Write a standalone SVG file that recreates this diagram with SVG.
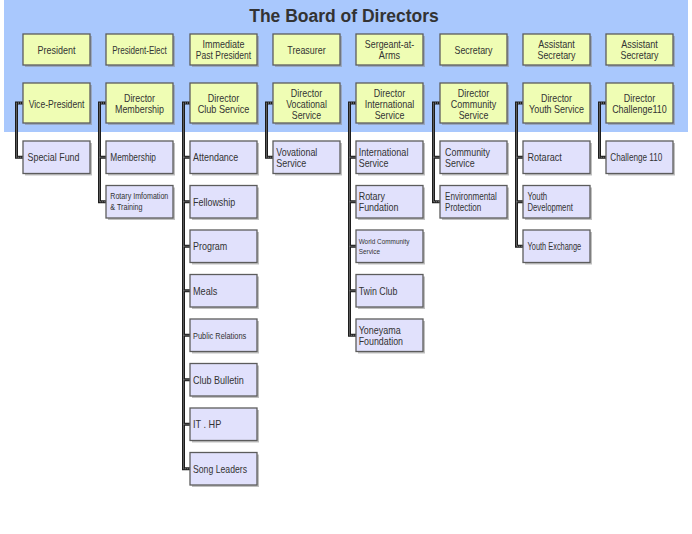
<svg xmlns="http://www.w3.org/2000/svg" width="692" height="534" viewBox="0 0 692 534">
<style>
.bg{fill:#A9C8FD}
.sh{fill:#8c8c8c;opacity:.55}
.y{fill:#EFFDB4;stroke:#5c5c5c;stroke-width:1.3}
.v{fill:#E1E1FC;stroke:#5c5c5c;stroke-width:1.3}
text{font-family:"Liberation Sans",Arial,sans-serif;font-size:11px;fill:#333}
.c{text-anchor:middle}
.s9{font-size:9px}
.s93{font-size:9.3px}
.s8{font-size:8px}
.title{font-size:17.5px;font-weight:bold;fill:#333;text-anchor:middle}
.ln{fill:none;stroke:#1c1c1c;stroke-width:3}
.ld{fill:none;stroke:#9a9a9a;stroke-width:1;stroke-dasharray:1 1}
</style>
<rect class="bg" x="4" y="0" width="684" height="132"/>
<text class="title" x="344" y="22">The Board of Directors</text>

<g id="connectors">
<path class="ln" d="M23,103H16.5V157.25H23 M106,103H99.5V201.75H106 M99.5,157.25H106 M190,103H183.5V468.75H190 M183.5,157.25H190 M183.5,201.75H190 M183.5,246.25H190 M183.5,290.75H190 M183.5,335.25H190 M183.5,379.75H190 M183.5,424.25H190 M273,103H266.5V157.25H273 M356,103H349.5V335.25H356 M349.5,157.25H356 M349.5,201.75H356 M349.5,246.25H356 M349.5,290.75H356 M440,103H433.5V201.75H440 M433.5,157.25H440 M523,103H516.5V246.25H523 M516.5,157.25H523 M516.5,201.75H523 M606,103H599.5V157.25H606"/>
<path class="ld" d="M23,103H16.5V157.25H23 M106,103H99.5V201.75H106 M99.5,157.25H106 M190,103H183.5V468.75H190 M183.5,157.25H190 M183.5,201.75H190 M183.5,246.25H190 M183.5,290.75H190 M183.5,335.25H190 M183.5,379.75H190 M183.5,424.25H190 M273,103H266.5V157.25H273 M356,103H349.5V335.25H356 M349.5,157.25H356 M349.5,201.75H356 M349.5,246.25H356 M349.5,290.75H356 M440,103H433.5V201.75H440 M433.5,157.25H440 M523,103H516.5V246.25H523 M516.5,157.25H523 M516.5,201.75H523 M606,103H599.5V157.25H606"/>
</g>

<!-- Row 1 -->
<g id="president"><rect class="sh" x="25" y="36" width="67" height="31"/><rect class="y" x="23" y="34" width="67" height="31"/><text class="c" x="56.5" y="53.5" textLength="38" lengthAdjust="spacingAndGlyphs">President</text></g>
<g id="president-elect"><rect class="sh" x="108" y="36" width="67" height="31"/><rect class="y" x="106" y="34" width="67" height="31"/><text class="c" x="139.5" y="53.5" textLength="54.7" lengthAdjust="spacingAndGlyphs">President-Elect</text></g>
<g id="past-president"><rect class="sh" x="192" y="36" width="67" height="31"/><rect class="y" x="190" y="34" width="67" height="31"/><text class="c" x="223.5" y="47.7" textLength="42" lengthAdjust="spacingAndGlyphs">Immediate</text><text class="c" x="223.5" y="58.7" textLength="55.3" lengthAdjust="spacingAndGlyphs">Past President</text></g>
<g id="treasurer"><rect class="sh" x="275" y="36" width="67" height="31"/><rect class="y" x="273" y="34" width="67" height="31"/><text class="c" x="306.5" y="53.5" textLength="38.3" lengthAdjust="spacingAndGlyphs">Treasurer</text></g>
<g id="sergeant"><rect class="sh" x="358" y="36" width="67" height="31"/><rect class="y" x="356" y="34" width="67" height="31"/><text class="c" x="389.5" y="47.7" textLength="49.3" lengthAdjust="spacingAndGlyphs">Sergeant-at-</text><text class="c" x="389.5" y="58.7" textLength="21.3" lengthAdjust="spacingAndGlyphs">Arms</text></g>
<g id="secretary"><rect class="sh" x="442" y="36" width="67" height="31"/><rect class="y" x="440" y="34" width="67" height="31"/><text class="c" x="473.5" y="53.5" textLength="38" lengthAdjust="spacingAndGlyphs">Secretary</text></g>
<g id="asst-secretary-1"><rect class="sh" x="525" y="36" width="67" height="31"/><rect class="y" x="523" y="34" width="67" height="31"/><text class="c" x="556.5" y="47.7" textLength="36.7" lengthAdjust="spacingAndGlyphs">Assistant</text><text class="c" x="556.5" y="58.7" textLength="38" lengthAdjust="spacingAndGlyphs">Secretary</text></g>
<g id="asst-secretary-2"><rect class="sh" x="608" y="36" width="67" height="31"/><rect class="y" x="606" y="34" width="67" height="31"/><text class="c" x="639.5" y="47.7" textLength="36.7" lengthAdjust="spacingAndGlyphs">Assistant</text><text class="c" x="639.5" y="58.7" textLength="38" lengthAdjust="spacingAndGlyphs">Secretary</text></g>

<!-- Row 2 -->
<g id="vice-president"><rect class="sh" x="25" y="85" width="67" height="40"/><rect class="y" x="23" y="83" width="67" height="40"/><text class="c" x="56.5" y="108" textLength="55.7" lengthAdjust="spacingAndGlyphs">Vice-President</text></g>
<g id="dir-membership"><rect class="sh" x="108" y="85" width="67" height="40"/><rect class="y" x="106" y="83" width="67" height="40"/><text class="c" x="139.5" y="102.3" textLength="31" lengthAdjust="spacingAndGlyphs">Director</text><text class="c" x="139.5" y="113.3" textLength="49" lengthAdjust="spacingAndGlyphs">Membership</text></g>
<g id="dir-club"><rect class="sh" x="192" y="85" width="67" height="40"/><rect class="y" x="190" y="83" width="67" height="40"/><text class="c" x="223.5" y="102.3" textLength="31.3" lengthAdjust="spacingAndGlyphs">Director</text><text class="c" x="223.5" y="113.3" textLength="51.7" lengthAdjust="spacingAndGlyphs">Club Service</text></g>
<g id="dir-vocational"><rect class="sh" x="275" y="85" width="67" height="40"/><rect class="y" x="273" y="83" width="67" height="40"/><text class="c" x="306.5" y="96.7" textLength="31.3" lengthAdjust="spacingAndGlyphs">Director</text><text class="c" x="306.5" y="108" textLength="40.7" lengthAdjust="spacingAndGlyphs">Vocational</text><text class="c" x="306.5" y="119.3" textLength="29.3" lengthAdjust="spacingAndGlyphs">Service</text></g>
<g id="dir-international"><rect class="sh" x="358" y="85" width="67" height="40"/><rect class="y" x="356" y="83" width="67" height="40"/><text class="c" x="389.5" y="96.7" textLength="31.3" lengthAdjust="spacingAndGlyphs">Director</text><text class="c" x="389.5" y="108" textLength="49.7" lengthAdjust="spacingAndGlyphs">International</text><text class="c" x="389.5" y="119.3" textLength="29.7" lengthAdjust="spacingAndGlyphs">Service</text></g>
<g id="dir-community"><rect class="sh" x="442" y="85" width="67" height="40"/><rect class="y" x="440" y="83" width="67" height="40"/><text class="c" x="473.5" y="96.7" textLength="31.3" lengthAdjust="spacingAndGlyphs">Director</text><text class="c" x="473.5" y="108" textLength="45.3" lengthAdjust="spacingAndGlyphs">Community</text><text class="c" x="473.5" y="119.3" textLength="29.7" lengthAdjust="spacingAndGlyphs">Service</text></g>
<g id="dir-youth"><rect class="sh" x="525" y="85" width="67" height="40"/><rect class="y" x="523" y="83" width="67" height="40"/><text class="c" x="556.5" y="102.3" textLength="31" lengthAdjust="spacingAndGlyphs">Director</text><text class="c" x="556.5" y="113.3" textLength="55" lengthAdjust="spacingAndGlyphs">Youth Service</text></g>
<g id="dir-challenge"><rect class="sh" x="608" y="85" width="67" height="40"/><rect class="y" x="606" y="83" width="67" height="40"/><text class="c" x="639.5" y="102.3" textLength="31.3" lengthAdjust="spacingAndGlyphs">Director</text><text class="c" x="639.5" y="113.3" textLength="54.7" lengthAdjust="spacingAndGlyphs">Challenge110</text></g>

<!-- Children col 1 -->
<g id="special-fund"><rect class="sh" x="25" y="143" width="67" height="32.5"/><rect class="v" x="23" y="141" width="67" height="32.5"/><text x="27.5" y="161" textLength="52" lengthAdjust="spacingAndGlyphs">Special Fund</text></g>
<!-- col 2 -->
<g id="membership"><rect class="sh" x="108" y="143" width="67" height="32.5"/><rect class="v" x="106" y="141" width="67" height="32.5"/><text x="110.3" y="161" textLength="45.7" lengthAdjust="spacingAndGlyphs">Membership</text></g>
<g id="rotary-info"><rect class="sh" x="108" y="187.5" width="67" height="32.5"/><rect class="v" x="106" y="185.5" width="67" height="32.5"/><text class="s9" x="110.3" y="199.3" textLength="58" lengthAdjust="spacingAndGlyphs">Rotary Imfomation</text><text class="s9" x="110.3" y="210" textLength="32.3" lengthAdjust="spacingAndGlyphs">&amp; Training</text></g>
<!-- col 3 -->
<g id="attendance"><rect class="sh" x="192" y="143" width="67" height="32.5"/><rect class="v" x="190" y="141" width="67" height="32.5"/><text x="193" y="161" textLength="45.3" lengthAdjust="spacingAndGlyphs">Attendance</text></g>
<g id="fellowship"><rect class="sh" x="192" y="187.5" width="67" height="32.5"/><rect class="v" x="190" y="185.5" width="67" height="32.5"/><text x="193" y="205.5" textLength="42.3" lengthAdjust="spacingAndGlyphs">Fellowship</text></g>
<g id="program"><rect class="sh" x="192" y="232" width="67" height="32.5"/><rect class="v" x="190" y="230" width="67" height="32.5"/><text x="193" y="250" textLength="34.3" lengthAdjust="spacingAndGlyphs">Program</text></g>
<g id="meals"><rect class="sh" x="192" y="276.5" width="67" height="32.5"/><rect class="v" x="190" y="274.5" width="67" height="32.5"/><text x="193" y="294.5" textLength="24.3" lengthAdjust="spacingAndGlyphs">Meals</text></g>
<g id="public-relations"><rect class="sh" x="192" y="321" width="67" height="32.5"/><rect class="v" x="190" y="319" width="67" height="32.5"/><text class="s93" x="193" y="338.5" textLength="53.3" lengthAdjust="spacingAndGlyphs">Public Relations</text></g>
<g id="club-bulletin"><rect class="sh" x="192" y="365.5" width="67" height="32.5"/><rect class="v" x="190" y="363.5" width="67" height="32.5"/><text x="193" y="383.5" textLength="50.7" lengthAdjust="spacingAndGlyphs">Club Bulletin</text></g>
<g id="it-hp"><rect class="sh" x="192" y="410" width="67" height="32.5"/><rect class="v" x="190" y="408" width="67" height="32.5"/><text x="193" y="428" textLength="28.3" lengthAdjust="spacingAndGlyphs">IT . HP</text></g>
<g id="song-leaders"><rect class="sh" x="192" y="454.5" width="67" height="32.5"/><rect class="v" x="190" y="452.5" width="67" height="32.5"/><text x="193" y="472.5" textLength="54" lengthAdjust="spacingAndGlyphs">Song Leaders</text></g>
<!-- col 4 -->
<g id="vocational-service"><rect class="sh" x="275" y="143" width="67" height="32.5"/><rect class="v" x="273" y="141" width="67" height="32.5"/><text x="276.3" y="155.7" textLength="41" lengthAdjust="spacingAndGlyphs">Vovational</text><text x="276.3" y="166.7" textLength="30" lengthAdjust="spacingAndGlyphs">Service</text></g>
<!-- col 5 -->
<g id="international-service"><rect class="sh" x="358" y="143" width="67" height="32.5"/><rect class="v" x="356" y="141" width="67" height="32.5"/><text x="358.7" y="155.7" textLength="49.7" lengthAdjust="spacingAndGlyphs">International</text><text x="358.7" y="166.7" textLength="29.7" lengthAdjust="spacingAndGlyphs">Service</text></g>
<g id="rotary-fundation"><rect class="sh" x="358" y="187.5" width="67" height="32.5"/><rect class="v" x="356" y="185.5" width="67" height="32.5"/><text x="358.7" y="200.2" textLength="26.3" lengthAdjust="spacingAndGlyphs">Rotary</text><text x="358.7" y="211.2" textLength="39.7" lengthAdjust="spacingAndGlyphs">Fundation</text></g>
<g id="world-community"><rect class="sh" x="358" y="232" width="67" height="32.5"/><rect class="v" x="356" y="230" width="67" height="32.5"/><text class="s8" x="358.7" y="243.5" textLength="50.7" lengthAdjust="spacingAndGlyphs">World Community</text><text class="s8" x="358.7" y="254" textLength="21.3" lengthAdjust="spacingAndGlyphs">Service</text></g>
<g id="twin-club"><rect class="sh" x="358" y="276.5" width="67" height="32.5"/><rect class="v" x="356" y="274.5" width="67" height="32.5"/><text x="358.7" y="294.5" textLength="38.7" lengthAdjust="spacingAndGlyphs">Twin Club</text></g>
<g id="yoneyama"><rect class="sh" x="358" y="321" width="67" height="32.5"/><rect class="v" x="356" y="319" width="67" height="32.5"/><text x="358.7" y="333.7" textLength="42" lengthAdjust="spacingAndGlyphs">Yoneyama</text><text x="358.7" y="344.7" textLength="44.3" lengthAdjust="spacingAndGlyphs">Foundation</text></g>
<!-- col 6 -->
<g id="community-service"><rect class="sh" x="442" y="143" width="67" height="32.5"/><rect class="v" x="440" y="141" width="67" height="32.5"/><text x="445" y="155.7" textLength="45" lengthAdjust="spacingAndGlyphs">Community</text><text x="445" y="166.7" textLength="29.7" lengthAdjust="spacingAndGlyphs">Service</text></g>
<g id="environmental"><rect class="sh" x="442" y="187.5" width="67" height="32.5"/><rect class="v" x="440" y="185.5" width="67" height="32.5"/><text x="445" y="200.2" textLength="51.7" lengthAdjust="spacingAndGlyphs">Environmental</text><text x="445" y="211.2" textLength="36.3" lengthAdjust="spacingAndGlyphs">Protection</text></g>
<!-- col 7 -->
<g id="rotaract"><rect class="sh" x="525" y="143" width="67" height="32.5"/><rect class="v" x="523" y="141" width="67" height="32.5"/><text x="527.5" y="161" textLength="34.3" lengthAdjust="spacingAndGlyphs">Rotaract</text></g>
<g id="youth-development"><rect class="sh" x="525" y="187.5" width="67" height="32.5"/><rect class="v" x="523" y="185.5" width="67" height="32.5"/><text x="527.5" y="200.2" textLength="19.7" lengthAdjust="spacingAndGlyphs">Youth</text><text x="527.5" y="211.2" textLength="45.3" lengthAdjust="spacingAndGlyphs">Development</text></g>
<g id="youth-exchange"><rect class="sh" x="525" y="232" width="67" height="32.5"/><rect class="v" x="523" y="230" width="67" height="32.5"/><text x="527.5" y="250" textLength="53.7" lengthAdjust="spacingAndGlyphs">Youth Exchange</text></g>
<!-- col 8 -->
<g id="challenge-110"><rect class="sh" x="608" y="143" width="67" height="32.5"/><rect class="v" x="606" y="141" width="67" height="32.5"/><text x="610.3" y="161" textLength="52" lengthAdjust="spacingAndGlyphs">Challenge 110</text></g>
</svg>
